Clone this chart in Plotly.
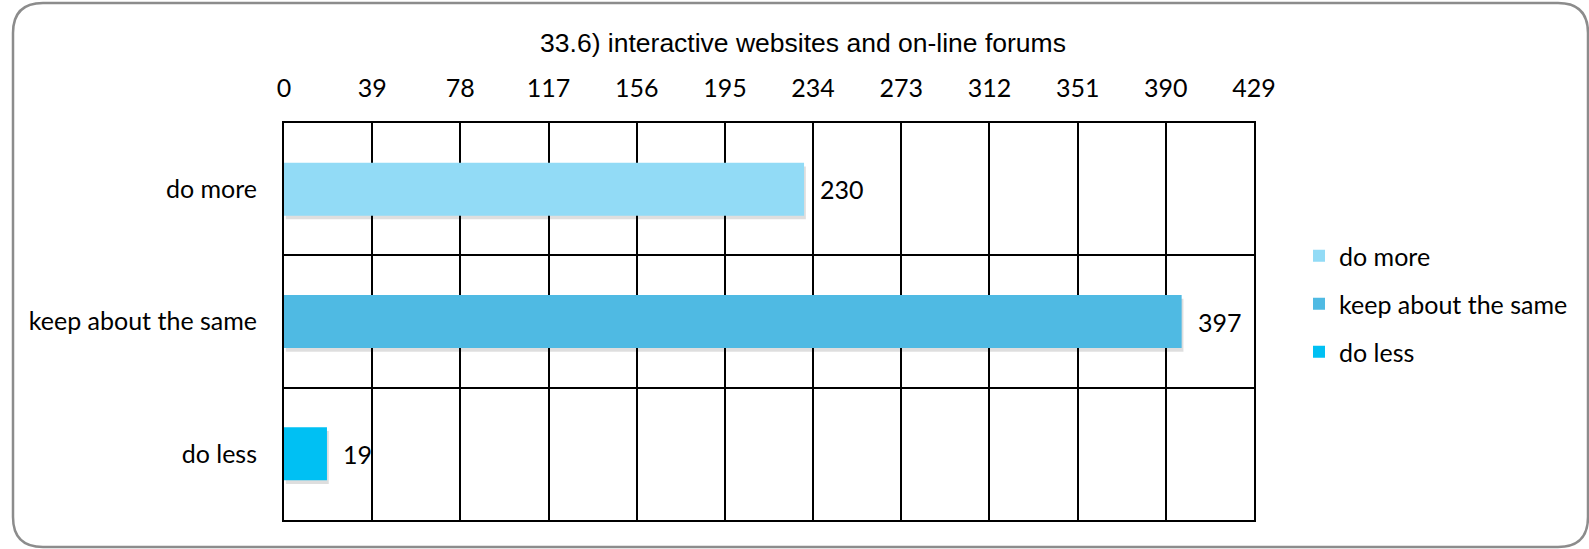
import plotly.graph_objects as go

# Survey answers for item 33.6
categories = ["do more", "keep about the same", "do less"]
counts = [230, 397, 19]
colors = ["#92DBF6", "#4FBAE3", "#00C0F3"]
tick_values = [0, 39, 78, 117, 156, 195, 234, 273, 312, 351, 390, 429]
title_text = "33.6) interactive websites and on-line forums"

W, H = 1589, 549
L, R, T, B = 284, 335, 123, 29
plot_w = W - L - R
plot_h = H - T - B

FONT = "Lato, Carlito, sans-serif"
FS = 25
BAR_W = 0.4
fig = go.Figure()

# soft drop shadow under each bar
for i, (cat, val) in enumerate(zip(categories, counts)):
    fig.add_trace(go.Bar(
        x=[val], y=[i], orientation="h", width=BAR_W, offset=-BAR_W / 2 + 0.028,
        base=0.8, marker=dict(color="rgba(0,0,0,0.13)", line=dict(width=0)),
        showlegend=False, hoverinfo="skip",
    ))

for i, (cat, val, col) in enumerate(zip(categories, counts, colors)):
    fig.add_trace(go.Bar(
        x=[val], y=[i], orientation="h", width=BAR_W, name=cat,
        marker=dict(color=col, line=dict(width=0)),
        legendgroup=cat,
    ))
    fig.add_annotation(
        x=val, y=i, xref="x", yref="y", text=str(val), showarrow=False,
        xanchor="left", yanchor="middle", xshift=14,
        font=dict(family=FONT, size=FS, color="#000000"),
    )


def px_to_paper(px, py):
    return (px - L) / plot_w, (H - B - py) / plot_h


def rounded_rect(x0, y0, x1, y1, r):
    def P(x, y):
        a, b = px_to_paper(x, y)
        return f"{a:.5f},{b:.5f}"
    s = f"M{P(x0 + r, y0)} L{P(x1 - r, y0)} Q{P(x1, y0)} {P(x1, y0 + r)} "
    s += f"L{P(x1, y1 - r)} Q{P(x1, y1)} {P(x1 - r, y1)} "
    s += f"L{P(x0 + r, y1)} Q{P(x0, y1)} {P(x0, y1 - r)} "
    s += f"L{P(x0, y0 + r)} Q{P(x0, y0)} {P(x0 + r, y0)} Z"
    return s


fig.add_shape(type="path", xref="paper", yref="paper",
              path=rounded_rect(13, 3, 1588, 547, 30),
              line=dict(color="#8C8C8C", width=2.5), layer="below")

fig.update_layout(
    width=W, height=H,
    margin=dict(l=L, r=R, t=T, b=B, autoexpand=False),
    paper_bgcolor="white", plot_bgcolor="white",
    barmode="overlay",
    title=dict(text=title_text, x=(803 - L) / plot_w, xref="paper",
               xanchor="center", y=1 - 42.5 / H, yanchor="middle",
               font=dict(family="Liberation Sans, Arial, sans-serif", size=26.5, color="#000000")),
    font=dict(family=FONT, size=FS, color="#000000"),
    legend=dict(x=(1299 - L) / plot_w, xanchor="left", y=(H - B - 233) / plot_h,
                yanchor="top", traceorder="grouped", tracegroupgap=12.5,
                font=dict(size=FS), bgcolor="rgba(0,0,0,0)"),
    showlegend=True,
)
fig.update_xaxes(
    side="top", range=[0, 429], tickvals=tick_values,
    ticktext=[str(v) for v in tick_values], ticks="", ticklabelstandoff=14,
    showgrid=True, gridcolor="#000000", gridwidth=1.6,
    showline=True, linecolor="#000000", linewidth=2, mirror=True, zeroline=False,
)
fig.update_yaxes(
    range=[2.5, -0.5], tickvals=list(range(len(categories))), ticktext=categories,
    ticks="", ticklabelstandoff=20, showgrid=False, zeroline=False,
    minor=dict(tick0=0.5, dtick=1, showgrid=True, gridcolor="#000000", gridwidth=1.6),
    showline=True, linecolor="#000000", linewidth=2, mirror=True,
)

fig.write_html("out.html")
